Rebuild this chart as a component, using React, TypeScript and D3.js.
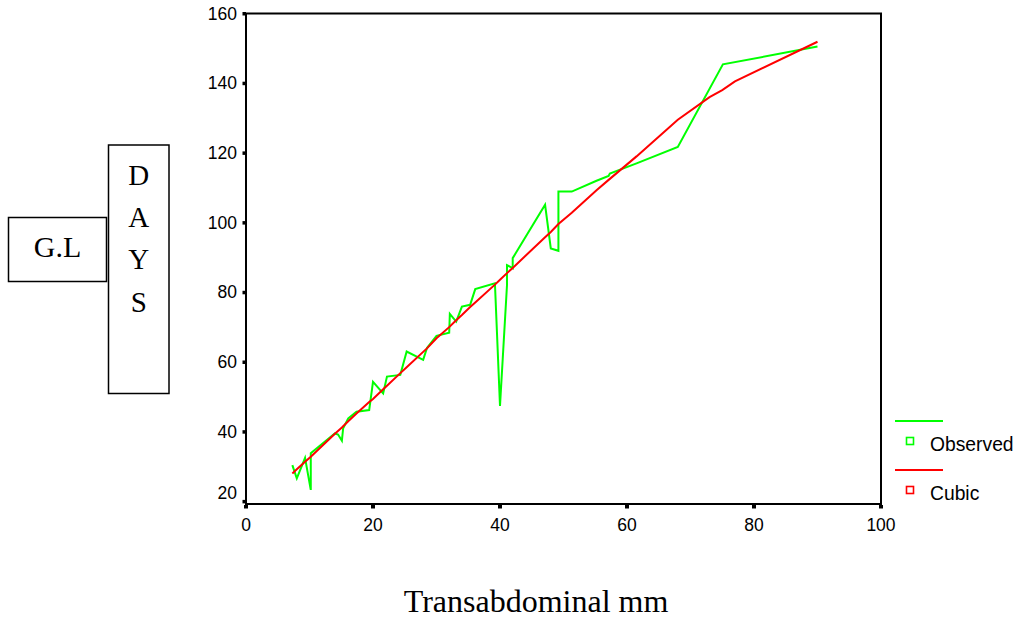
import React from "react";
import * as d3 from "d3";

const obsX = [7.3, 8.0, 9.3, 10.2, 10.2, 14.0, 14.5, 15.1, 15.3, 16.1, 17.4, 19.4, 20.0, 21.6, 22.2, 24.3, 25.3, 27.9, 28.5, 30.0, 32.0, 32.1, 33.1, 34.0, 35.3, 36.1, 39.2, 40.0, 41.1, 41.1, 42.0, 42.0, 47.1, 48.0, 49.2, 49.2, 51.3, 55.2, 57.1, 57.3, 61.5, 68.0, 75.1, 90.0];
const obsY = [30.4, 26.6, 32.5, 23.3, 33.8, 39.5, 39.2, 37.4, 41.0, 43.8, 45.7, 46.2, 54.3, 51.0, 55.8, 56.3, 63.0, 60.6, 64.0, 67.5, 68.4, 73.8, 71.6, 75.9, 76.4, 80.9, 82.6, 47.4, 82.0, 87.8, 86.9, 89.8, 105.1, 92.6, 91.9, 108.9, 108.9, 112.0, 113.4, 114.1, 117.0, 121.7, 145.4, 150.5];

const fitX = [7.3, 8.0, 9.3, 10.2, 14.0, 15.1, 16.1, 17.4, 19.4, 20.0, 21.6, 22.2, 24.3, 25.3, 27.9, 28.5, 30.0, 32.0, 33.1, 34.0, 35.3, 36.1, 39.2, 40.0, 41.1, 42.0, 47.1, 48.0, 49.2, 51.3, 55.2, 57.2, 61.5, 68.0, 73.0, 75.0, 77.0, 90.0];
const fitY = [28.0, 29.2, 31.4, 32.8, 39.4, 41.2, 43.0, 45.2, 48.5, 49.4, 52.2, 53.2, 56.8, 58.5, 62.9, 63.9, 66.8, 70.0, 72.0, 73.5, 75.8, 77.1, 82.2, 83.6, 85.5, 87.0, 95.8, 97.3, 99.6, 102.8, 109.3, 112.4, 119.0, 129.5, 136.0, 138.0, 140.5, 151.9];

const xTicks = [0, 20, 40, 60, 80, 100];
const yTicks = [20, 40, 60, 80, 100, 120, 140, 160];
const daysLetters = ["D", "A", "Y", "S"];
const legendItems = [
  { label: "Observed", color: "#00ff00" },
  { label: "Cubic", color: "#ff0000" },
];

export default function App() {
  const x = d3.scaleLinear().domain([0, 100]).range([246, 881]);
  const y = d3.scaleLinear().domain([19.25, 160]).range([504, 13.5]);
  const obs = obsX.map((v, i) => [v, obsY[i]] as [number, number]);
  const fit = fitX.map((v, i) => [v, fitY[i]] as [number, number]);
  const line = d3
    .line<[number, number]>()
    .x((d) => x(d[0]))
    .y((d) => y(d[1]));
  const sans = "'Liberation Sans', Arial, sans-serif";
  const serif = "'Liberation Serif', 'Times New Roman', serif";
  return (
    <svg width={1023} height={621} style={{ position: "absolute", left: 0, top: 0, background: "#fff" }}>
      <rect x={0} y={0} width={1023} height={621} fill="#fff" />
      {/* frame */}
      <rect x={246} y={13.5} width={635} height={490.5} fill="none" stroke="#000" strokeWidth={2} />
      {/* ticks */}
      {yTicks.map((t) => (
        <g key={"y" + t}>
          <rect x={242.5} y={y(t) - 1.5} width={3.5} height={3.5} fill="#000" />
          <text
            x={237}
            y={t === 20 ? y(t) - 2 : y(t) + 6}
            textAnchor="end"
            fontFamily={sans}
            fontSize={17.5}
            fill="#000"
          >
            {t}
          </text>
        </g>
      ))}
      {xTicks.map((t) => (
        <g key={"x" + t}>
          <rect x={x(t) - 2} y={505} width={4} height={3.5} fill="#000" />
          <text x={x(t)} y={531} textAnchor="middle" fontFamily={sans} fontSize={17.5} fill="#000">
            {t}
          </text>
        </g>
      ))}
      {/* lines */}
      <path d={line(obs) || ""} fill="none" stroke="#00ff00" strokeWidth={2} strokeLinejoin="miter" />
      <path d={line(fit) || ""} fill="none" stroke="#ff0000" strokeWidth={2} />
      {/* legend */}
      {legendItems.map((it, i) => (
        <g key={it.label} transform={`translate(0, ${i * 49})`}>
          <line x1={895} x2={943} y1={421} y2={421} stroke={it.color} strokeWidth={2} />
          <rect x={906.5} y={437.5} width={7} height={7} fill="none" stroke={it.color} strokeWidth={1.6} />
          <text x={930} y={451} fontFamily={sans} fontSize={19.3} fill="#000">
            {it.label}
          </text>
        </g>
      ))}
      {/* G.L box */}
      <rect x={8.5} y={217.5} width={98} height={64} fill="#fff" stroke="#000" strokeWidth={1.5} />
      <text x={57.5} y={257} textAnchor="middle" fontFamily={serif} fontSize={30} fill="#000">
        G.L
      </text>
      {/* DAYS box */}
      <rect x={108.5} y={145} width={60.5} height={248.5} fill="#fff" stroke="#000" strokeWidth={1.5} />
      {daysLetters.map((l, i) => (
        <text key={l} x={138.7} y={185 + i * 42.2} textAnchor="middle" fontFamily={serif} fontSize={29} fill="#000">
          {l}
        </text>
      ))}
      {/* x title */}
      <text x={536} y={612} textAnchor="middle" fontFamily={serif} fontSize={32} fill="#000">
        Transabdominal mm
      </text>
    </svg>
  );
}
